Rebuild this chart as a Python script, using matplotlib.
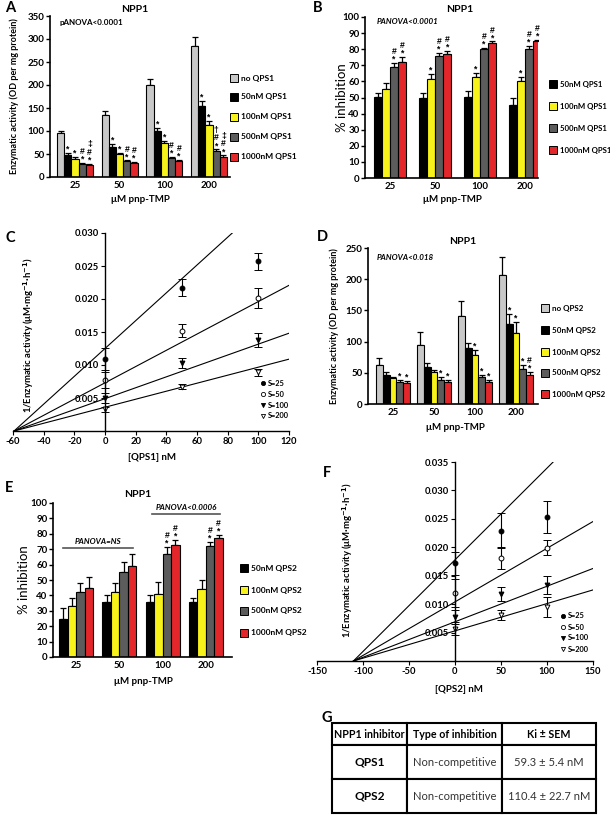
import numpy as np
import matplotlib
matplotlib.use('Agg')
import matplotlib.pyplot as plt
from matplotlib.patches import Rectangle
from matplotlib.lines import Line2D
from matplotlib.ticker import FormatStrFormatter

# DATA
substrate = ['25', '50', '100', '200']

# A - enzymatic activity with QPS1
qps1_names = ['no QPS1', '50nM QPS1', '100nM QPS1', '500nM QPS1', '1000nM QPS1']
qps1_act = [[95, 134, 200, 284], [48, 65, 99, 154], [40, 50, 73, 114], [29, 34, 41, 57], [27, 31, 35, 44]]
qps1_act_err = [[5, 9, 13, 20], [4, 6, 7, 11], [3, 3, 5, 7], [2, 2, 2, 3], [2, 2, 2, 3]]
qps1_act_sig = [['', '', '', ''], ['*', '*', '*', '*'], ['*', '*', '*', '*'],
                ['#\n*', '#\n*', '#\n*', '†\n#\n*'], ['‡\n#\n*', '#\n*', '#\n*', '‡\n#\n*']]

# B - % inhibition with QPS1
qps1_inh = [[50.5, 50, 50.5, 45.5], [55.5, 61.5, 63, 60], [69, 75.5, 80, 80], [72, 77, 84, 85]]
qps1_inh_err = [[2.5, 2.5, 3.5, 4.5], [3.5, 3, 2.5, 3], [2.5, 2, 1, 2], [3, 2, 0.8, 1]]
qps1_inh_sig = [['', '', '', ''], ['', '*', '*', '*'], ['#\n*'] * 4, ['#\n*'] * 4]

# C - Dixon plot QPS1
dose_qps1 = [0, 50, 100]
s_labels = ['S=25', 'S=50', 'S=100', 'S=200']
dixon_qps1 = [[0.0109, 0.0217, 0.0257], [0.0077, 0.0152, 0.0202], [0.0050, 0.0103, 0.0138], [0.0033, 0.0067, 0.0089]]
dixon_qps1_err = [[0.0017, 0.0013, 0.0013], [0.0012, 0.0010, 0.0015], [0.0007, 0.0008, 0.0010], [0.0004, 0.0004, 0.0005]]
dixon_qps1_icpt = [0.0125, 0.0073, 0.0049, 0.0036]
ki_qps1 = 59.3

# D - enzymatic activity with QPS2
qps2_names = ['no QPS2', '50nM QPS2', '100nM QPS2', '500nM QPS2', '1000nM QPS2']
qps2_act = [[63, 95, 141, 206], [47, 59, 89, 129], [41.5, 52, 79, 114], [35, 39, 44, 56], [33.5, 35, 36, 47]]
qps2_act_err = [[10, 21, 24, 30], [5, 6, 8, 15], [2.5, 2, 8, 17], [4, 4, 3, 6], [4, 3, 3, 4]]
qps2_act_sig = [['', '', '', ''], ['', '', '', '*'], ['', '', '*', '*'], ['*'] * 4, ['*', '*', '*', '#\n*']]

# E - % inhibition with QPS2
qps2_inh = [[25, 36, 36, 36], [33, 42, 41, 44], [42, 55, 67, 72], [45, 59, 73, 77]]
qps2_inh_err = [[7, 4, 4, 2], [5, 6, 8, 6], [6, 6.5, 4.5, 3], [7, 8, 3, 2]]
qps2_inh_sig = [['', '', '', ''], ['', '', '', ''], ['', '', '#\n*', '#\n*'], ['', '', '#\n*', '#\n*']]

# F - Dixon plot QPS2
dose_qps2 = [0, 50, 100]
dixon_qps2 = [[0.0172, 0.0229, 0.0254], [0.0120, 0.0181, 0.0199], [0.0077, 0.0118, 0.0134], [0.0057, 0.0081, 0.0095]]
dixon_qps2_err = [[0.0020, 0.0031, 0.0028], [0.0025, 0.0020, 0.0013], [0.0012, 0.0013, 0.0016], [0.0012, 0.0009, 0.0017]]
dixon_qps2_icpt = [0.0178, 0.0104, 0.0069, 0.0053]
ki_qps2 = 110.4

# G - table
table_head = ['NPP1 inhibitor', 'Type of inhibition', 'Ki ± SEM']
table_rows = [['QPS1', 'Non-competitive', '59.3 ± 5.4 nM'],
              ['QPS2', 'Non-competitive', '110.4 ± 22.7 nM']]

colors5 = ['#c8c8c8', '#000000', '#f7f21a', '#5c5c5c', '#e3262a']
colors4 = colors5[1:]
markers = ['o', 'o', 'v', 'v']
fills = ['black', 'white', 'black', 'white']

plt.rcParams['font.family'] = ['Lato', 'DejaVu Sans']
plt.rcParams['font.weight'] = 'bold'
plt.rcParams['axes.unicode_minus'] = False

W, H = 610, 816
fig = plt.figure(figsize=(W / 100, H / 100), dpi=100)


def rect(x0, y0, x1, y1):
    return [x0 / W, 1 - y1 / H, (x1 - x0) / W, (y1 - y0) / H]


def ftext(x, y, s, **kw):
    kw.setdefault('va', 'center')
    return fig.text(x / W, 1 - y / H, s, **kw)


def bar_panel(box, first, step, bar, vals, errs, sigs, colors, ymax, ystep):
    ax = fig.add_axes(rect(*box))
    x = np.arange(len(substrate))
    n = len(vals)
    w = bar / step
    for i in range(n):
        pos = x + (i - (n - 1) / 2) * w
        v = np.array(vals[i], float)
        e = np.array(errs[i], float)
        ax.bar(pos, v, w, color=colors[i], edgecolor='black', linewidth=0.8, zorder=2)
        ax.errorbar(pos, v, yerr=[np.zeros_like(e), e], fmt='none', ecolor='black',
                    elinewidth=0.9, capsize=2, capthick=0.9, zorder=1)
        for p, t, s in zip(pos, v + e, sigs[i]):
            if s:
                ax.annotate(s, (p, t), xytext=(0, -0.5), textcoords='offset points',
                            ha='center', va='bottom', fontsize=6.2, linespacing=0.8,
                            family=['Liberation Sans', 'DejaVu Sans'])
    ax.set_xlim((box[0] - first) / step, (box[2] - first) / step)
    ax.set_ylim(0, ymax)
    ax.set_yticks(np.arange(0, ymax + 1, ystep))
    ax.set_xticks(x, substrate)
    ax.spines[['top', 'right']].set_visible(False)
    ax.spines[['left', 'bottom']].set_linewidth(1.2)
    ax.tick_params(axis='y', length=3, width=1, labelsize=7, pad=1)
    ax.tick_params(axis='x', length=0, labelsize=7, pad=3)
    return ax


def box_legend(x, ys, names, colors, fs=6.0):
    for y, name, c in zip(ys, names, colors):
        fig.add_artist(Rectangle((x / W, 1 - (y + 4) / H), 8 / W, 8 / H, facecolor=c,
                                 edgecolor='black', lw=0.7, transform=fig.transFigure))
        ftext(x + 11, y, name, fontsize=fs, ha='left')


def kinetic_panel(box, dose, vals, errs, icpt, ki, xlim, xstep, ytop, ystep):
    ax = fig.add_axes(rect(*box))
    for v, e, b, m, f in zip(vals, errs, icpt, markers, fills):
        slope = b / ki
        x_end = min(xlim[1], (ytop - b) / slope)
        xs = np.array([-ki, x_end])
        ax.plot(xs, b + slope * xs, color='black', lw=0.8)
        ax.errorbar(dose, v, yerr=e, fmt=m, mfc=f, mec='black', ecolor='black', ms=3.5,
                    mew=0.7, elinewidth=0.8, capsize=3, capthick=0.8)
    ax.set_xlim(*xlim)
    ax.set_ylim(0, ytop)
    ax.spines['left'].set_position(('data', 0))
    ax.spines[['top', 'right']].set_visible(False)
    ax.spines[['left', 'bottom']].set_linewidth(1.0)
    ax.set_xticks(np.arange(xlim[0], xlim[1] + 1, xstep))
    ax.set_yticks(np.arange(ystep, ytop + ystep / 2, ystep))
    ax.yaxis.set_major_formatter(FormatStrFormatter('%.3f'))
    ax.tick_params(length=3, width=0.8, labelsize=6.8, pad=1.5)
    ax.set_facecolor('none')
    return ax


def marker_legend(x, ys, fs=5.3):
    for y, name, m, f in zip(ys, s_labels, markers, fills):
        fig.add_artist(Line2D([x / W], [1 - y / H], marker=m, color='black', mfc=f, ms=3,
                              mew=0.6, linestyle='none', transform=fig.transFigure))
        ftext(x + 5, y, name, fontsize=fs, ha='left')


# PANEL A
bar_panel((50, 16, 230, 177), 75, 44.7, 7.2, qps1_act, qps1_act_err, qps1_act_sig, colors5, 350, 50)
ftext(5, 8, 'A', fontsize=10.5)
ftext(135, 10, 'NPP1', fontsize=7.5, ha='center')
ftext(60, 23, 'pANOVA<0.0001', fontsize=5.8, ha='left')
ftext(14, 96, 'Enzymatic activity (OD per mg protein)', fontsize=6.5, ha='center', rotation=90)
ftext(140, 200, 'μM pnp-TMP', fontsize=7, ha='center')
box_legend(230, [78, 97, 117, 137, 157], qps1_names, colors5)

# PANEL B
bar_panel((365, 17, 538, 178), 390, 45, 8.2, qps1_inh, qps1_inh_err, qps1_inh_sig, colors4, 100, 10)
ftext(313, 8, 'B', fontsize=10.5)
ftext(460, 10, 'NPP1', fontsize=7.5, ha='center')
ftext(377, 22, 'PANOVA<0.0001', fontsize=5.8, ha='left', style='italic')
ftext(342, 98, '% inhibition', fontsize=9.5, ha='center', rotation=90, weight='normal')
ftext(452, 200, 'μM pnp-TMP', fontsize=7, ha='center')
box_legend(549, [84, 106, 128, 150], qps1_names[1:], colors4, fs=5.6)

# PANEL C
kinetic_panel((13, 233, 289, 431), dose_qps1, dixon_qps1, dixon_qps1_err, dixon_qps1_icpt,
              ki_qps1, (-60, 120), 20, 0.030, 0.005)
ftext(5, 238, 'C', fontsize=10.5)
ftext(29, 335, r'1/Enzymatic activity (μM·mg$^{-1}$·h$^{-1}$)', fontsize=6.8, ha='center', rotation=90)
ftext(152, 457, '[QPS1] nM', fontsize=7, ha='center')
marker_legend(263, [383, 394, 405, 416])

# PANEL D
bar_panel((368, 248, 538, 404), 393, 41, 6.8, qps2_act, qps2_act_err, qps2_act_sig, colors5, 250, 50)
ftext(317, 237, 'D', fontsize=10.5)
ftext(463, 242, 'NPP1', fontsize=7.5, ha='center')
ftext(377, 257, 'PANOVA<0.018', fontsize=5.8, ha='left', style='italic')
ftext(334, 326, 'Enzymatic activity (OD per mg protein)', fontsize=6.5, ha='center', rotation=90)
ftext(455, 427, 'μM pnp-TMP', fontsize=7, ha='center')
box_legend(541, [308, 330, 352, 373, 394], qps2_names, colors5, fs=5.8)

# PANEL E
axe = bar_panel((53, 503, 232, 657), 76, 43.3, 8.5, qps2_inh, qps2_inh_err, qps2_inh_sig, colors4, 100, 10)
ftext(5, 488, 'E', fontsize=10.5)
ftext(138, 495, 'NPP1', fontsize=7.5, ha='center')
ftext(24, 580, '% inhibition', fontsize=9.5, ha='center', rotation=90, weight='normal')
ftext(143, 681, 'μM pnp-TMP', fontsize=7, ha='center')
box_legend(240, [568, 590, 611, 633], qps2_names[1:], colors4)
axe.plot([-0.3, 1.32], [71, 71], color='#555555', lw=1.2)
axe.plot([1.75, 3.33], [93, 93], color='#555555', lw=1.2)
axe.text(0.5, 73, 'PANOVA=NS', fontsize=5.8, ha='center', va='bottom', style='italic')
axe.text(2.54, 95, 'PANOVA<0.0006', fontsize=5.8, ha='center', va='bottom', style='italic')

# PANEL F
kinetic_panel((317, 462, 593, 661), dose_qps2, dixon_qps2, dixon_qps2_err, dixon_qps2_icpt,
              ki_qps2, (-150, 150), 50, 0.035, 0.005)
ftext(323, 473, 'F', fontsize=10.5)
ftext(348, 560, r'1/Enzymatic activity (μM·mg$^{-1}$·h$^{-1}$)', fontsize=6.8, ha='center', rotation=90)
ftext(459, 690, '[QPS2] nM', fontsize=7, ha='center')
marker_legend(563, [616, 627, 638, 649])

# PANEL G
ftext(322, 718, 'G', fontsize=10.5)
axg = fig.add_axes(rect(332, 723, 596, 813))
axg.axis('off')
tbl = axg.table(cellText=table_rows, colLabels=table_head, cellLoc='center', bbox=[0, 0, 1, 1])
tbl.auto_set_font_size(False)
col_w = [75, 95, 94]
row_h = [22, 34, 34]
for (r, c), cell in tbl.get_celld().items():
    cell.set_width(col_w[c])
    cell.set_height(row_h[r])
    cell.set_linewidth(1.5)
    cell.set_edgecolor('black')
    cell.PAD = 0.02
    t = cell.get_text()
    if r == 0:
        t.set_fontsize(7.7)
        t.set_fontweight('bold')
    elif c == 0:
        t.set_fontsize(8.6)
        t.set_fontweight('bold')
    else:
        t.set_fontsize(8.0)
        t.set_fontweight('normal')
        t.set_color('#333333')

fig.savefig('out.png', dpi=100, facecolor='white')
